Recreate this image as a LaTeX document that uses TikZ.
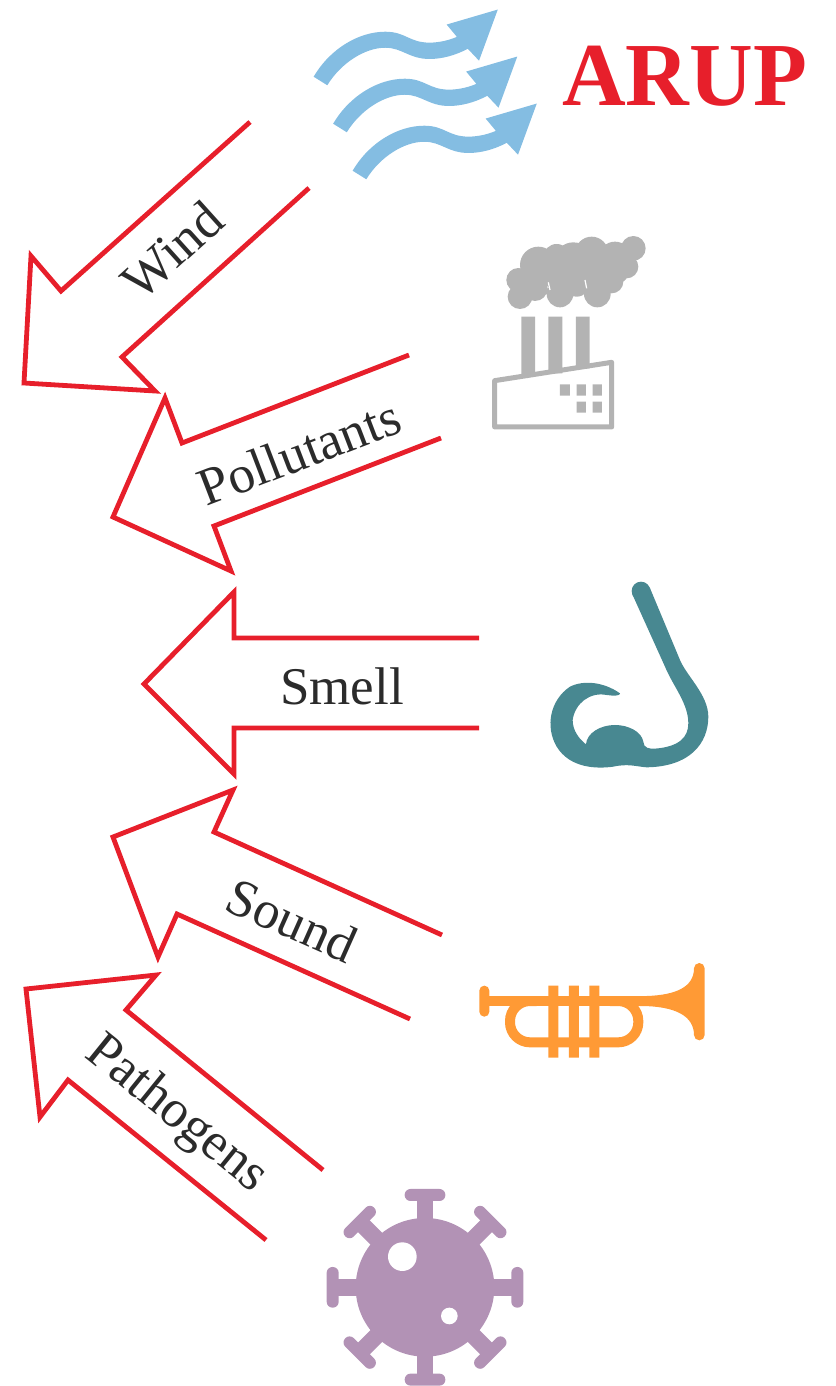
\documentclass[tikz,border=0pt]{standalone}
\usepackage{fontspec}
\setmainfont{Liberation Serif}
\definecolor{arupred}{HTML}{E71F2B}
\definecolor{windblue}{HTML}{84BDE2}
\definecolor{smokegray}{HTML}{B3B3B3}
\definecolor{noseteal}{HTML}{488891}
\definecolor{hornorange}{HTML}{FF9A35}
\definecolor{viruspurple}{HTML}{B292B5}
\definecolor{labelink}{HTML}{2B2B2B}
\tikzset{
  flowarrow/.style={draw=arupred,line width=4.8pt,miter limit=10,line join=miter},
  flowlabel/.style={text=labelink,font=\fontsize{53}{53}\selectfont,inner sep=0pt},
  icon/.style={x=0.3333pt,y=-0.3333pt},
  windicon/.style={x=0.341pt,y=-0.341pt},
}
\newcommand{\windstroke}{%
  \fill[windblue] (40,225) .. controls (90,140) and (175,93) .. (250,93)
    .. controls (310,93) and (320,125) .. (380,125)
    .. controls (410,125) and (440,117) .. (460,108)
    -- (430,72) -- (580,28) -- (525,178) -- (492,143)
    .. controls (455,163) and (415,173) .. (380,173)
    .. controls (320,173) and (300,140) .. (250,140)
    .. controls (190,140) and (120,185) .. (80,250) -- cycle;}
\begin{document}
\begin{tikzpicture}[x=1pt,y=-1pt]
\useasboundingbox (0,0) rectangle (835,1386);
% arrows
\draw[flowarrow] (250,122) -- (61,291) -- (31,256) -- (24,383) -- (155,391) -- (122,357) -- (309,188);
\draw[flowarrow] (409,355) -- (182,443) -- (165,398) -- (113,517) -- (231,571) -- (214,526) -- (441,438);
\draw[flowarrow] (479,638) -- (234,638) -- (234,592) -- (144,684) -- (234,774) -- (234,728) -- (479,728);
\draw[flowarrow] (442,935) -- (214,832) -- (233,790) -- (113,837) -- (158,957) -- (177,914) -- (410,1019);
\draw[flowarrow] (323,1170) -- (126,1010) -- (156,975) -- (26,989) -- (40,1117) -- (68,1080) -- (266,1240);
% labels
\node[flowlabel,rotate=42] (wind) at (172,250) {Wind};
\node[flowlabel,rotate=21] (pollutants) at (299,452) {Pollutants};
\node[flowlabel] (smell) at (342,686) {Smell};
\node[flowlabel,rotate=-24] (sound) at (292,920) {Sound};
\node[flowlabel,rotate=-39] (pathogens) at (176,1115) {Pathogens};
\node[anchor=base,xscale=0.98,text=arupred,inner sep=0pt,font=\fontsize{90}{90}\selectfont\bfseries] (arup) at (684.5,106) {ARUP};
% wind icon
\begin{scope}[shift={(300,0)},windicon]\windstroke\end{scope}
\begin{scope}[shift={(319.5,47)},windicon]\windstroke\end{scope}
\begin{scope}[shift={(339,94)},windicon]\windstroke\end{scope}
% factory icon
\begin{scope}[shift={(480,225)},icon]
  \fill[smokegray] (120,215) circle (37) (115,165) circle (36) (165,190) circle (38)
    (175,120) circle (55) (230,97) circle (40) (240,207) circle (40) (280,110) circle (58)
    (335,85) circle (50) (352,207) circle (40) (400,130) circle (50) (405,100) circle (50)
    (460,70) circle (37) (440,125) circle (35) (240,150) circle (50) (345,150) circle (52)
    (165,150) circle (42) (290,175) circle (40) (395,170) circle (35);
  \draw[white,line width=1.2pt] (205,172) -- (210,195) (315,165) -- (320,190);
  \fill[smokegray] (124,275) rectangle (165,455) (205,275) rectangle (247,445) (288,275) rectangle (329,430);
  \draw[smokegray,line width=5pt,line join=round] (44,467) -- (395,412) -- (395,606) -- (44,606) -- cycle;
  \fill[smokegray] (240,478) rectangle (270,512) (290,478) rectangle (318,512) (338,478) rectangle (366,512)
    (290,530) rectangle (318,563) (338,530) rectangle (366,563);
\end{scope}
% nose icon
\begin{scope}[shift={(540,570)},icon]
  \fill[noseteal] (303,63) circle (28);
  \fill[noseteal] (277,73) -- (329,52)
    -- (420,270) .. controls (440,318) and (505,375) .. (505,440)
    .. controls (505,520) and (450,590) .. (320,592)
    .. controls (290,590) and (265,580) .. (220,590)
    .. controls (170,597) and (90,595) .. (50,530)
    .. controls (15,470) and (30,390) .. (90,350)
    .. controls (130,330) and (190,335) .. (240,370)
    .. controls (242,378) and (220,378) .. (200,375)
    .. controls (150,365) and (105,400) .. (98,450)
    .. controls (98,480) and (115,505) .. (138,523)
    .. controls (140,490) and (180,465) .. (225,465)
    .. controls (265,465) and (305,485) .. (310,515)
    .. controls (310,535) and (330,537) .. (345,536)
    .. controls (420,530) and (445,500) .. (445,460)
    .. controls (445,400) and (400,350) .. (375,290) -- cycle;
\end{scope}
% trumpet icon
\begin{scope}[shift={(470,950)},icon]
  \fill[hornorange,rounded corners=4.9pt] (28,107) rectangle (58,200);
  \fill[hornorange] (50,138) rectangle (530,168);
  \fill[hornorange] (530,138) .. controls (620,135) and (672,110) .. (672,55)
    arc[start angle=180,end angle=360,radius=16] -- (704,255)
    arc[start angle=0,end angle=180,radius=16]
    .. controls (672,200) and (620,168) .. (510,168) -- cycle;
  \draw[hornorange,line width=10pt,rounded corners=20pt] (200,153) -- (120,153) -- (120,277) -- (505,277) -- (505,153) -- (420,153);
  \fill[hornorange] (235,107) rectangle (265,323) (297,107) rectangle (327,323) (358,107) rectangle (388,323);
\end{scope}
% virus icon
\begin{scope}[shift={(425,1287.3)},icon]
  \fill[viruspurple] (0,0) circle (208);
  \foreach \a in {0,45,...,315}{
    \begin{scope}[rotate=\a]
      \fill[viruspurple] (-25,-200) rectangle (25,-270);
      \fill[viruspurple,rounded corners=5.8pt] (-61,-295) rectangle (61,-259);
    \end{scope}
  }
  \fill[white] (-68,-92) circle (43) (73,86) circle (25);
\end{scope}
\end{tikzpicture}
\end{document}
